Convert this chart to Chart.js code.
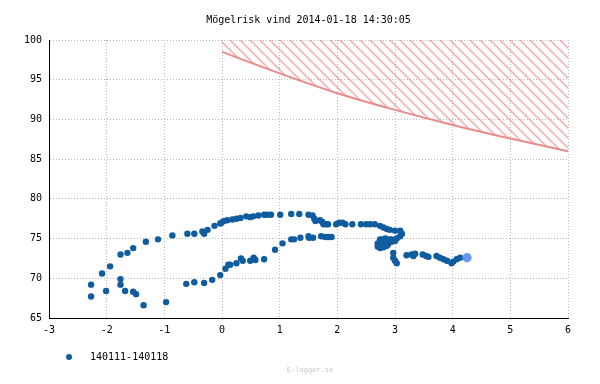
<!DOCTYPE html>
<html>
<head>
<meta charset="utf-8">
<title>Mögelrisk vind</title>
<script src="https://cdn.jsdelivr.net/npm/chart.js@4/dist/chart.umd.min.js"></script>
<style>
  body { margin: 0; background: #fff; }
  canvas { display: block; }
</style>
</head>
<body>
<canvas id="chart" width="600" height="384"></canvas>
<script>
const chartTitle = 'Mögelrisk vind 2014-01-18 14:30:05';
const seriesLabel = '140111-140118';
const watermark = 'E-logger.se';

// temperatur (x) och relativ fuktighet (y) för veckan
const tempValues = [
  -2.27, -2.27, -2.08, -1.94, -2.01, -1.76, -1.76, -1.76, -1.68, -1.64, -1.54, -1.54, -1.49, -1.32, -1.36, -1.11, -0.97, -0.86,
  -0.60, -0.48, -0.34, -0.31, -0.25, -0.13, -0.03, -0.01, 0.03, 0.09, 0.18, 0.25, 0.32, 0.42, 0.49, 0.54, 0.63, 0.73, 0.78, 0.85,
  1.01, 1.20, 1.34, 1.50, 1.57, 1.60, 1.62, 1.70, 1.74, 1.76, 1.81, 1.84, 1.98, 2.03, 2.09, 2.14, 2.26, 2.41, 2.50, 2.57, 2.65,
  2.74, 2.80, 2.86, 2.91, 3.00, 3.09, 3.12, 3.09, 3.03, 2.94,
  2.74, 2.74, 2.74, 2.83, 2.88, 2.94, 3.00, 2.80, 2.86, 2.77, 2.83, 2.70, 2.70, 2.90, 2.78,
  2.97, 2.97, 3.00, 3.03,
  3.20, 3.29, 3.35, 3.32, 3.48, 3.54, 3.58, 3.72, 3.78, 3.84, 3.90, 3.98, 4.01, 4.07, 4.13,
  -0.62, -0.48, -0.31, -0.17, -0.03, 0.06, 0.11, 0.14, 0.25, 0.33, 0.36, 0.49, 0.55, 0.58, 0.73, 0.92, 1.05,
  1.20, 1.25, 1.36, 1.50, 1.51, 1.58, 1.72, 1.79, 1.84, 1.90
];
const humidityValues = [
  69.2, 67.7, 70.6, 71.5, 68.4, 69.9, 69.2, 73.0, 68.4, 73.2, 73.8, 68.3, 68.0, 74.6, 66.6, 74.9, 67.0, 75.4,
  75.6, 75.6, 75.9, 75.6, 76.1, 76.6, 76.9, 77.0, 77.2, 77.3, 77.4, 77.5, 77.6, 77.8, 77.7, 77.8, 77.9, 78.0, 78.0, 78.0,
  78.0, 78.1, 78.1, 78.0, 77.9, 77.5, 77.2, 77.3, 77.1, 76.8, 76.8, 76.8, 76.8, 77.0, 77.0, 76.8, 76.8, 76.8, 76.8, 76.8, 76.8,
  76.6, 76.4, 76.2, 76.1, 76.0, 76.0, 75.6, 75.3, 75.0, 74.9,
  74.9, 74.3, 73.8, 74.5, 74.3, 74.6, 74.7, 73.9, 74.1, 74.9, 75.0, 74.4, 74.0, 74.9, 74.6,
  73.2, 72.6, 72.2, 71.9,
  72.9, 73.0, 73.1, 72.8, 73.0, 72.8, 72.7, 72.8, 72.6, 72.4, 72.2, 71.9, 72.1, 72.4, 72.6,
  69.3, 69.5, 69.4, 69.8, 70.4, 71.2, 71.7, 71.7, 71.9, 72.5, 72.2, 72.2, 72.6, 72.3, 72.4, 73.6, 74.4,
  74.9, 74.9, 75.1, 75.3, 75.1, 75.1, 75.3, 75.2, 75.2, 75.2
];

// senaste mätningen
const currentTemp = [4.25];
const currentHumidity = [72.6];

// mögelgräns
const limitTemps = [0, 1, 2, 3, 4, 5, 6];
const limitHumidity = [98.5, 95.8, 93.3, 91.2, 89.3, 87.6, 86.0];

const xTicks = [-3, -2, -1, 0, 1, 2, 3, 4, 5, 6];
const yTicks = [65, 70, 75, 80, 85, 90, 95, 100];

const FONT = 'DejaVu Sans Mono';
const POINT_COLOR = '#0f5c9f';

function makeHatch() {
  const c = document.createElement('canvas');
  c.width = 10;
  c.height = 10;
  const g = c.getContext('2d');
  g.strokeStyle = 'rgba(236,140,140,0.65)';
  g.lineWidth = 1.6;
  for (let k = -1; k <= 1; k++) {
    g.beginPath();
    g.moveTo(-2, -2 + k * 10);
    g.lineTo(12, 12 + k * 10);
    g.stroke();
  }
  return g.createPattern(c, 'repeat');
}

// legend marker: circle shifted to the right inside a wide image
function makeLegendMarker() {
  const c = document.createElement('canvas');
  c.width = 75;
  c.height = 8;
  const g = c.getContext('2d');
  g.fillStyle = POINT_COLOR;
  g.beginPath();
  g.arc(59, 4, 3, 0, Math.PI * 2);
  g.fill();
  return c;
}

const zip = (xs, ys) => xs.map((x, i) => ({x: x, y: ys[i]}));

const watermarkPlugin = {
  id: 'watermark',
  afterDraw(chart) {
    const ctx = chart.ctx;
    ctx.save();
    ctx.font = '7px "' + FONT + '"';
    ctx.fillStyle = '#c4c4c4';
    ctx.textAlign = 'center';
    ctx.textBaseline = 'middle';
    ctx.fillText(watermark, 310, 370);
    ctx.restore();
  }
};

new Chart(document.getElementById('chart'), {
  type: 'scatter',
  data: {
    datasets: [
      {
        label: seriesLabel,
        data: zip(tempValues, humidityValues),
        backgroundColor: POINT_COLOR,
        borderColor: POINT_COLOR,
        pointRadius: 3.2,
        pointBorderWidth: 0,
        pointStyle: 'circle',
        order: 1
      },
      {
        label: 'nu',
        data: zip(currentTemp, currentHumidity),
        backgroundColor: '#6d96ee',
        borderColor: '#6d96ee',
        pointRadius: 4.6,
        pointBorderWidth: 0,
        order: 0
      },
      {
        label: 'gräns',
        type: 'line',
        data: zip(limitTemps, limitHumidity),
        borderColor: '#e98b8b',
        borderWidth: 2,
        pointRadius: 0,
        cubicInterpolationMode: 'monotone',
        fill: 'end',
        backgroundColor: makeHatch(),
        order: 2
      }
    ]
  },
  options: {
    responsive: false,
    animation: false,
    layout: { padding: { left: 0, right: 32, top: 0, bottom: 12 } },
    scales: {
      x: {
        type: 'linear',
        min: -3,
        max: 6,
        afterBuildTicks: s => { s.ticks = xTicks.map(v => ({value: v})); },
        afterFit: s => { s.height = 24; },
        ticks: { color: '#000', padding: 6, font: { family: FONT, size: 10 } },
        grid: { color: '#b8b8b8', drawTicks: false },
        border: { display: true, color: '#000', width: 1, dash: [1, 2] }
      },
      y: {
        min: 65,
        max: 100,
        afterBuildTicks: s => { s.ticks = yTicks.map(v => ({value: v})); },
        afterFit: s => { s.width = 49; },
        ticks: { color: '#000', padding: 7, font: { family: FONT, size: 10 } },
        grid: { color: '#b8b8b8', drawTicks: false },
        border: { display: true, color: '#000', width: 1, dash: [1, 2] }
      }
    },
    plugins: {
      title: {
        display: true,
        text: chartTitle,
        color: '#000',
        fullSize: false,
        font: { family: FONT, size: 10, weight: 'normal' },
        padding: { top: 14, bottom: 14 }
      },
      legend: {
        position: 'bottom',
        align: 'start',
        labels: {
          filter: item => item.datasetIndex === 0,
          usePointStyle: true,
          pointStyle: makeLegendMarker(),
          pointStyleWidth: 75,
          color: '#000',
          font: { family: FONT, size: 10 }
        }
      },
      tooltip: { enabled: false }
    }
  },
  plugins: [watermarkPlugin]
});
</script>
</body>
</html>
